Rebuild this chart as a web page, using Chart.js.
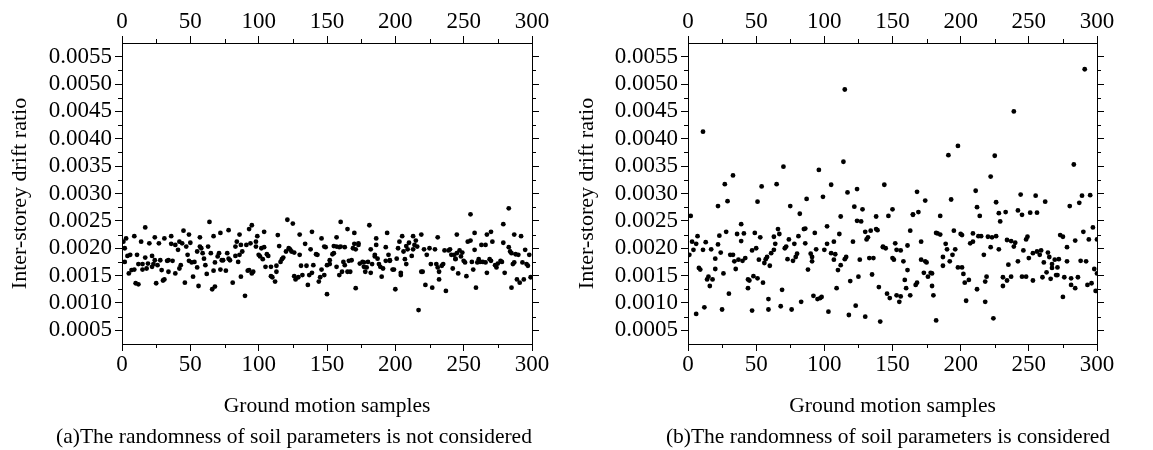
<!DOCTYPE html>
<html>
<head>
<meta charset="utf-8">
<script src="https://cdn.jsdelivr.net/npm/chart.js@4/dist/chart.umd.min.js"></script>
<style>
  body { margin: 0; background: #fff; width: 1153px; height: 450px; overflow: hidden; position: relative; }
  canvas { position: absolute; top: 0; }
  #chartA { left: 0; }
  #chartB { left: 560px; }
</style>
</head>
<body>
<canvas id="chartA" width="588" height="450"></canvas>
<canvas id="chartB" width="656" height="450"></canvas>
<script>
// axis ticks
const xTicks = [0, 50, 100, 150, 200, 250, 300];
const xMinor = [25, 75, 125, 175, 225, 275];
const yTicks = [0.0005, 0.0010, 0.0015, 0.0020, 0.0025, 0.0030, 0.0035, 0.0040, 0.0045, 0.0050, 0.0055];
const yMinor = [0.00075, 0.00125, 0.00175, 0.00225, 0.00275, 0.00325, 0.00375, 0.00425, 0.00475, 0.00525];

const xTitle = 'Ground motion samples';
const yTitle = 'Inter-storey drift ratio';
const captionA = '(a)The randomness of soil parameters is not considered';
const captionB = '(b)The randomness of soil parameters is considered';

// (a) soil randomness not considered
const samplesA = [1, 2, 2, 4, 5, 6, 7, 9, 10, 11, 12, 12, 14, 15, 15, 17, 18, 19, 20, 22, 22, 23, 24, 25, 26, 27, 28, 29, 30, 31,
  33, 34, 34, 36, 37, 39, 39, 41, 42, 42, 43, 44, 46, 47, 48, 49, 50, 51, 52, 53, 55, 55, 56, 57, 58, 59, 60, 61, 62, 63,
  65, 66, 67, 68, 68, 70, 71, 72, 73, 74, 76, 77, 78, 79, 81, 83, 83, 84, 85, 86, 87, 87, 88, 90, 91, 92, 93, 94, 95, 96,
  98, 98, 100, 101, 102, 103, 104, 105, 106, 107, 109, 109, 110, 112, 113, 113, 115, 116, 117, 118, 120, 122, 123, 124, 126, 126, 127, 129, 130, 131,
  132, 134, 135, 136, 137, 138, 139, 140, 142, 143, 144, 145, 146, 148, 148, 149, 150, 150, 152, 152, 154, 155, 155, 157, 157, 159, 159, 160, 161, 162,
  163, 163, 165, 166, 167, 168, 169, 170, 171, 171, 173, 173, 174, 176, 177, 177, 178, 179, 180, 182, 182, 183, 185, 185, 186, 187, 188, 189, 190, 191,
  193, 193, 195, 196, 196, 198, 199, 200, 201, 202, 203, 204, 204, 206, 207, 208, 208, 209, 210, 212, 213, 214, 215, 216, 217, 219, 220, 221, 222, 223,
  225, 226, 227, 229, 230, 231, 232, 232, 234, 235, 236, 237, 239, 240, 241, 242, 243, 244, 244, 245, 246, 247, 248, 249, 250, 251, 252, 253, 255, 256,
  257, 258, 259, 260, 261, 262, 263, 264, 266, 266, 267, 269, 270, 271, 273, 274, 275, 277, 278, 279, 280, 283, 284, 285, 285, 286, 287, 288, 289, 290,
  291, 293, 294, 295, 296, 297, 298, 299,
  3, 9, 17, 24, 31, 36, 45, 49, 57, 64, 67, 72, 78, 86, 93, 95, 99, 104, 114, 121, 125, 130, 139, 146, 157, 160, 165, 170, 181, 186,
  194, 205, 213, 219, 231, 245, 255, 258, 267, 270, 279, 283, 287, 292];
const driftA = [0.00212, 0.00175, 0.00200, 0.00186, 0.00154, 0.00188, 0.00160, 0.00161, 0.00136, 0.00188, 0.00171, 0.00134, 0.00212, 0.00161, 0.00171, 0.00183, 0.00163, 0.00172, 0.00209, 0.00166, 0.00186, 0.00171, 0.00178, 0.00136, 0.00169, 0.00209, 0.00178, 0.00160, 0.00141, 0.00143,
  0.00177, 0.00178, 0.00157, 0.00208, 0.00177, 0.00206, 0.00154, 0.00197, 0.00212, 0.00163, 0.00169, 0.00209, 0.00137, 0.00203, 0.00188, 0.00177, 0.00210, 0.00174, 0.00148, 0.00175, 0.00194, 0.00165, 0.00131, 0.00203, 0.00200, 0.00191, 0.00181, 0.00169, 0.00153, 0.00203,
  0.00191, 0.00125, 0.00159, 0.00130, 0.00174, 0.00185, 0.00191, 0.00161, 0.00178, 0.00178, 0.00159, 0.00191, 0.00181, 0.00178, 0.00137, 0.00186, 0.00203, 0.00212, 0.00175, 0.00188, 0.00206, 0.00148, 0.00194, 0.00113, 0.00206, 0.00159, 0.00160, 0.00209, 0.00154, 0.00157,
  0.00212, 0.00203, 0.00188, 0.00185, 0.00200, 0.00180, 0.00202, 0.00166, 0.00189, 0.00186, 0.00149, 0.00166, 0.00147, 0.00139, 0.00157, 0.00168, 0.00204, 0.00175, 0.00180, 0.00183, 0.00194, 0.00200, 0.00198, 0.00194, 0.00192, 0.00149, 0.00143, 0.00147, 0.00188, 0.00168,
  0.00151, 0.00208, 0.00168, 0.00133, 0.00151, 0.00198, 0.00155, 0.00169, 0.00189, 0.00188, 0.00139, 0.00147, 0.00161, 0.00203, 0.00151, 0.00202, 0.00169, 0.00116, 0.00171, 0.00178, 0.00189, 0.00191, 0.00204, 0.00203, 0.00166, 0.00151, 0.00202, 0.00203, 0.00157, 0.00175,
  0.00169, 0.00202, 0.00157, 0.00177, 0.00157, 0.00178, 0.00200, 0.00208, 0.00198, 0.00127, 0.00206, 0.00209, 0.00172, 0.00175, 0.00166, 0.00174, 0.00157, 0.00165, 0.00175, 0.00198, 0.00155, 0.00171, 0.00188, 0.00185, 0.00206, 0.00181, 0.00171, 0.00166, 0.00148, 0.00163,
  0.00177, 0.00202, 0.00188, 0.00177, 0.00178, 0.00161, 0.00161, 0.00125, 0.00181, 0.00200, 0.00212, 0.00151, 0.00155, 0.00194, 0.00180, 0.00171, 0.00204, 0.00198, 0.00210, 0.00186, 0.00198, 0.00206, 0.00214, 0.00203, 0.00087, 0.00157, 0.00157, 0.00198, 0.00133, 0.00188,
  0.00200, 0.00171, 0.00128, 0.00198, 0.00171, 0.00165, 0.00157, 0.00143, 0.00168, 0.00171, 0.00196, 0.00122, 0.00196, 0.00198, 0.00188, 0.00163, 0.00188, 0.00181, 0.00180, 0.00191, 0.00154, 0.00196, 0.00185, 0.00192, 0.00177, 0.00174, 0.00149, 0.00212, 0.00214, 0.00175,
  0.00161, 0.00197, 0.00128, 0.00174, 0.00180, 0.00175, 0.00206, 0.00175, 0.00206, 0.00174, 0.00155, 0.00180, 0.00177, 0.00212, 0.00169, 0.00165, 0.00172, 0.00177, 0.00175, 0.00210, 0.00155, 0.00202, 0.00194, 0.00128, 0.00191, 0.00171, 0.00174, 0.00189, 0.00143, 0.00188,
  0.00137, 0.00174, 0.00143, 0.00197, 0.00171, 0.00168, 0.00188, 0.00147,
  0.00218, 0.00222, 0.00238, 0.00220, 0.00218, 0.00222, 0.00232, 0.00225, 0.00220, 0.00248, 0.00222, 0.00228, 0.00233, 0.00225, 0.00235, 0.00242, 0.00222, 0.00230, 0.00224, 0.00252, 0.00245, 0.00225, 0.00230, 0.00218, 0.00220, 0.00248, 0.00235, 0.00228, 0.00242, 0.00218,
  0.00228, 0.00222, 0.00222, 0.00225, 0.00220, 0.00225, 0.00262, 0.00228, 0.00225, 0.00230, 0.00244, 0.00273, 0.00225, 0.00222];

// (b) soil randomness considered
const samplesB = [1, 2, 3, 4, 6, 6, 7, 8, 9, 11, 11, 12, 13, 14, 15, 16, 17, 18, 20, 20, 22, 22, 23, 24, 25, 26, 27, 28, 29, 30,
  31, 33, 33, 34, 35, 36, 37, 39, 39, 40, 41, 42, 44, 45, 44, 47, 47, 48, 49, 50, 51, 51, 52, 53, 54, 55, 56, 57, 58, 59,
  59, 60, 61, 63, 63, 64, 65, 66, 67, 68, 69, 70, 71, 72, 73, 74, 75, 76, 77, 78, 79, 80, 81, 82, 83, 85, 86, 86, 87, 88,
  90, 91, 91, 92, 93, 94, 95, 96, 97, 98, 99, 100, 102, 102, 103, 105, 105, 107, 107, 108, 109, 110, 111, 112, 112, 114, 115, 115, 116, 117,
  118, 119, 121, 122, 123, 124, 124, 125, 126, 127, 128, 130, 130, 131, 132, 133, 134, 135, 136, 138, 138, 139, 140, 141, 143, 143, 144, 145, 146, 147,
  148, 150, 150, 151, 153, 153, 152, 155, 156, 156, 158, 159, 160, 161, 161, 163, 163, 165, 165, 167, 168, 168, 169, 171, 171, 173, 174, 174, 175, 176,
  178, 179, 179, 180, 182, 182, 183, 185, 185, 187, 187, 189, 190, 191, 192, 193, 194, 195, 196, 198, 198, 200, 201, 201, 202, 203, 204, 206, 207, 209,
  209, 211, 212, 212, 213, 214, 215, 217, 218, 218, 219, 220, 222, 222, 223, 224, 225, 226, 226, 228, 228, 229, 231, 231, 233, 234, 234, 235, 237, 237,
  239, 239, 240, 242, 242, 244, 245, 245, 246, 248, 248, 249, 250, 251, 253, 253, 255, 256, 256, 258, 259, 260, 261, 262, 263, 264, 265, 266, 267, 267,
  269, 270, 271, 271, 272, 273, 275, 275, 276, 278, 278, 280, 281, 281, 283, 284, 284, 286, 287, 288, 289, 290, 291, 292, 293, 294, 295, 296, 297, 298,
  299, 300, 300];
const driftB = [0.00188, 0.00259, 0.00212, 0.00197, 0.00208, 0.00080, 0.00222, 0.00164, 0.00161, 0.00413, 0.00197, 0.00092, 0.00211, 0.00143, 0.00148, 0.00131, 0.00198, 0.00143, 0.00181, 0.00162, 0.00207, 0.00277, 0.00223, 0.00192, 0.00088, 0.00154, 0.00317, 0.00230, 0.00286, 0.00117,
  0.00188, 0.00188, 0.00333, 0.00176, 0.00162, 0.00226, 0.00179, 0.00213, 0.00244, 0.00177, 0.00227, 0.00182, 0.00143, 0.00141, 0.00127, 0.00086, 0.00196, 0.00149, 0.00228, 0.00200, 0.00145, 0.00285, 0.00179, 0.00220, 0.00313, 0.00137, 0.00173, 0.00180, 0.00184, 0.00107,
  0.00088, 0.00168, 0.00191, 0.00197, 0.00221, 0.00208, 0.00317, 0.00235, 0.00226, 0.00094, 0.00124, 0.00349, 0.00200, 0.00203, 0.00180, 0.00216, 0.00277, 0.00088, 0.00177, 0.00208, 0.00184, 0.00190, 0.00222, 0.00263, 0.00102, 0.00235, 0.00236, 0.00209, 0.00290, 0.00161,
  0.00190, 0.00184, 0.00176, 0.00113, 0.00228, 0.00198, 0.00107, 0.00343, 0.00109, 0.00111, 0.00294, 0.00197, 0.00208, 0.00240, 0.00084, 0.00191, 0.00316, 0.00212, 0.00179, 0.00189, 0.00127, 0.00160, 0.00226, 0.00258, 0.00169, 0.00358, 0.00490, 0.00180, 0.00184, 0.00302,
  0.00078, 0.00140, 0.00212, 0.00276, 0.00095, 0.00250, 0.00308, 0.00148, 0.00179, 0.00249, 0.00271, 0.00075, 0.00230, 0.00216, 0.00220, 0.00182, 0.00232, 0.00152, 0.00182, 0.00258, 0.00235, 0.00233, 0.00129, 0.00066, 0.00203, 0.00202, 0.00316, 0.00200, 0.00117, 0.00259,
  0.00109, 0.00271, 0.00182, 0.00179, 0.00114, 0.00197, 0.00209, 0.00102, 0.00112, 0.00196, 0.00176, 0.00142, 0.00127, 0.00160, 0.00205, 0.00232, 0.00114, 0.00261, 0.00262, 0.00133, 0.00137, 0.00303, 0.00266, 0.00212, 0.00179, 0.00155, 0.00287, 0.00176, 0.00174, 0.00148,
  0.00155, 0.00131, 0.00154, 0.00114, 0.00228, 0.00068, 0.00227, 0.00259, 0.00225, 0.00184, 0.00168, 0.00208, 0.00198, 0.00370, 0.00176, 0.00289, 0.00188, 0.00232, 0.00198, 0.00165, 0.00387, 0.00226, 0.00224, 0.00165, 0.00153, 0.00137, 0.00104, 0.00142, 0.00209, 0.00212,
  0.00227, 0.00305, 0.00275, 0.00125, 0.00222, 0.00259, 0.00222, 0.00188, 0.00102, 0.00139, 0.00148, 0.00221, 0.00202, 0.00331, 0.00220, 0.00072, 0.00369, 0.00222, 0.00284, 0.00198, 0.00264, 0.00249, 0.00131, 0.00147, 0.00266, 0.00215, 0.00141, 0.00170, 0.00213, 0.00148,
  0.00450, 0.00203, 0.00210, 0.00269, 0.00176, 0.00298, 0.00261, 0.00148, 0.00196, 0.00148, 0.00216, 0.00221, 0.00182, 0.00265, 0.00141, 0.00191, 0.00296, 0.00265, 0.00194, 0.00188, 0.00196, 0.00147, 0.00174, 0.00285, 0.00156, 0.00192, 0.00184, 0.00144, 0.00171, 0.00164,
  0.00179, 0.00151, 0.00165, 0.00151, 0.00180, 0.00224, 0.00221, 0.00111, 0.00147, 0.00176, 0.00202, 0.00277, 0.00133, 0.00145, 0.00353, 0.00214, 0.00127, 0.00147, 0.00283, 0.00177, 0.00296, 0.00230, 0.00527, 0.00176, 0.00133, 0.00216, 0.00297, 0.00136, 0.00238, 0.00162,
  0.00122, 0.00154, 0.00216];

const serif = "'Liberation Serif', 'Times New Roman', serif";

// 副目盛りを描くプラグイン
const minorTicks = {
  id: 'minorTicks',
  afterDraw(chart) {
    const ctx = chart.ctx;
    const { top, bottom, left, right } = chart.chartArea;
    const len = 4;
    ctx.save();
    ctx.strokeStyle = '#000';
    ctx.lineWidth = 1;
    ctx.beginPath();
    xMinor.forEach(v => {
      const px = Math.round(chart.scales.x.getPixelForValue(v)) + 0.5;
      ctx.moveTo(px, bottom); ctx.lineTo(px, bottom + len);
      ctx.moveTo(px, top); ctx.lineTo(px, top - len);
    });
    yMinor.forEach(v => {
      const py = Math.round(chart.scales.y.getPixelForValue(v)) + 0.5;
      ctx.moveTo(left, py); ctx.lineTo(left - len, py);
      ctx.moveTo(right, py); ctx.lineTo(right + len, py);
    });
    ctx.stroke();
    ctx.restore();
  }
};

function setTicks(list) {
  return scale => { scale.ticks = list.map(v => ({ value: v })); };
}

function axisBase(list) {
  return {
    type: 'linear',
    afterBuildTicks: setTicks(list),
    grid: { drawOnChartArea: false, tickLength: 7, tickColor: '#000', color: '#000' },
    border: { color: '#000', width: 1 }
  };
}

// グラフを描画する関数
function drawPanel(id, xs, ys, caption, leftW, rightW, yTitlePad) {
  const points = xs.map((x, i) => ({ x: x, y: ys[i] }));
  const tickFont = { family: serif, size: 23 };
  const titleFont = { family: serif, size: 21.5 };
  new Chart(document.getElementById(id), {
    type: 'scatter',
    data: {
      datasets: [{
        data: points,
        xAxisID: 'x',
        yAxisID: 'y',
        backgroundColor: '#000',
        borderWidth: 0,
        pointRadius: 2.4
      }]
    },
    options: {
      responsive: false,
      animation: false,
      layout: { padding: 0 },
      plugins: {
        legend: { display: false },
        tooltip: { enabled: false },
        title: {
          display: true,
          position: 'bottom',
          text: caption,
          color: '#000',
          font: { family: serif, size: 21.5, weight: 'normal' },
          padding: { top: 0, bottom: 0 }
        }
      },
      scales: {
        x: Object.assign(axisBase(xTicks), {
          position: 'bottom', min: 0, max: 300,
          afterFit: s => { s.height = 80.2; },
          ticks: { font: tickFont, color: '#000', padding: 0, maxRotation: 0, autoSkip: false },
          title: { display: true, text: xTitle, color: '#000', font: titleFont, padding: { top: 0, bottom: 5.3 } }
        }),
        x2: Object.assign(axisBase(xTicks), {
          position: 'top', min: 0, max: 300,
          afterFit: s => { s.height = 43; },
          ticks: { font: tickFont, color: '#000', padding: 0, maxRotation: 0, autoSkip: false }
        }),
        y: Object.assign(axisBase(yTicks), {
          position: 'left', min: 0.00025, max: 0.00575,
          afterFit: s => { s.width = leftW; },
          ticks: { font: tickFont, color: '#000', padding: 3, autoSkip: false, callback: v => v.toFixed(4) },
          title: { display: true, text: yTitle, color: '#000', font: { family: serif, size: 22 }, padding: { top: yTitlePad, bottom: 0 } }
        }),
        y2: Object.assign(axisBase(yTicks), {
          position: 'right', min: 0.00025, max: 0.00575,
          afterFit: s => { s.width = rightW; },
          ticks: { display: false, autoSkip: false }
        })
      }
    },
    plugins: [minorTicks]
  });
}

drawPanel('chartA', samplesA, driftA, captionA, 122, 56, 7.5);
drawPanel('chartB', samplesB, driftB, captionB, 128, 119, 14.5);
</script>
</body>
</html>
